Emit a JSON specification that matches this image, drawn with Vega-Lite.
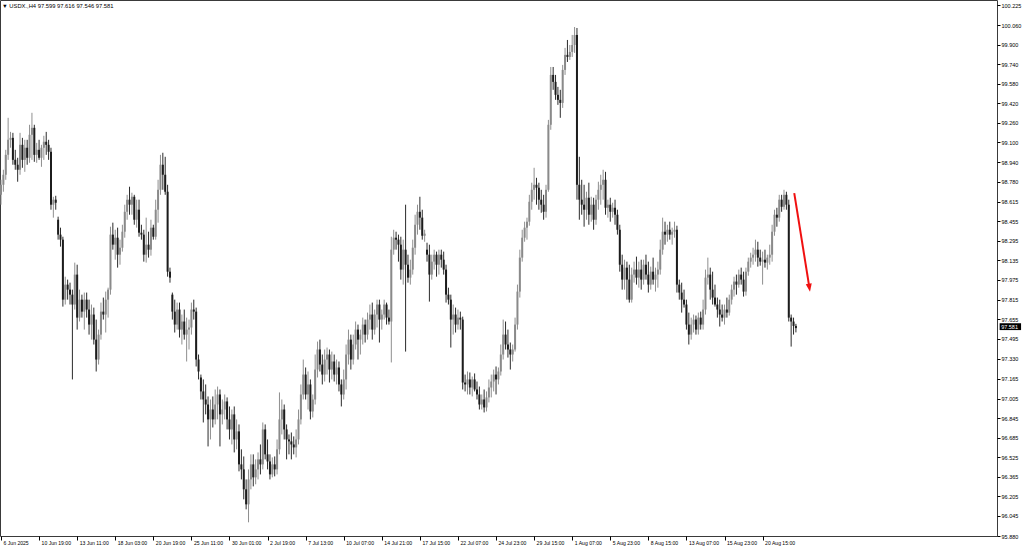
{
"$schema": "https://vega.github.io/schema/vega-lite/v6.json",
"width": 997, "height": 536,
"autosize": "none",
"padding": {"left": 0, "top": 0, "right": 27, "bottom": 14},
"background": "white",
"config": {"view": {"stroke": "#3a3a3a", "strokeWidth": 1}, "font": "Liberation Sans",
 "scale": {"continuousPadding": 0},
 "axisX": {"labelAlign": "left", "labelBaseline": "top", "labelPadding": 0, "labelOffset": 2, "tickSize": 4, "tickColor": "#000", "domain": false, "grid": false, "labelFontSize": 5.1, "labelColor": "#000", "labelOverlap": false, "labelFlush": false, "labelBound": false},
 "axisY": {"tickSize": 3, "labelPadding": 1, "tickColor": "#000", "domain": false, "grid": false, "labelFontSize": 5.5, "labelColor": "#000", "labelOverlap": false, "labelFlush": false, "labelBound": false, "labelBaseline": "middle"}},
"title": {"text": "▼ USDX.,H4  97.599 97.616 97.546 97.581", "anchor": "start", "frame": "group", "offset": -9, "fontSize": 5.8, "fontWeight": "normal", "color": "#000", "dx": 2},
"datasets": {
"ohlc": [
{"i":0,"o":98.672,"h":98.795,"l":98.591,"c":98.754},
{"i":1,"o":98.754,"h":98.877,"l":98.697,"c":98.836},
{"i":2,"o":98.836,"h":99.040,"l":98.795,"c":98.999},
{"i":3,"o":98.999,"h":99.302,"l":98.958,"c":99.122},
{"i":4,"o":99.122,"h":99.187,"l":99.057,"c":99.138},
{"i":5,"o":99.138,"h":99.179,"l":98.918,"c":98.958},
{"i":6,"o":98.958,"h":99.040,"l":98.877,"c":98.918},
{"i":7,"o":98.918,"h":98.975,"l":98.779,"c":98.877},
{"i":8,"o":98.877,"h":99.179,"l":98.836,"c":99.081},
{"i":9,"o":99.081,"h":99.138,"l":98.893,"c":98.958},
{"i":10,"o":98.958,"h":99.122,"l":98.860,"c":99.057},
{"i":11,"o":99.057,"h":99.122,"l":98.918,"c":98.975},
{"i":12,"o":98.975,"h":99.245,"l":98.934,"c":99.163},
{"i":13,"o":99.163,"h":99.343,"l":98.958,"c":99.220},
{"i":14,"o":99.220,"h":99.245,"l":98.942,"c":98.999},
{"i":15,"o":98.999,"h":99.097,"l":98.934,"c":99.040},
{"i":16,"o":99.040,"h":99.122,"l":98.958,"c":98.975},
{"i":17,"o":98.975,"h":99.081,"l":98.901,"c":99.057},
{"i":18,"o":99.057,"h":99.155,"l":98.958,"c":99.106},
{"i":19,"o":99.106,"h":99.187,"l":98.999,"c":99.081},
{"i":20,"o":99.081,"h":99.122,"l":98.958,"c":99.024},
{"i":21,"o":99.024,"h":99.057,"l":98.550,"c":98.591},
{"i":22,"o":98.591,"h":98.656,"l":98.485,"c":98.632},
{"i":23,"o":98.632,"h":98.664,"l":98.550,"c":98.607},
{"i":24,"o":98.468,"h":98.493,"l":98.305,"c":98.346},
{"i":25,"o":98.346,"h":98.403,"l":98.248,"c":98.305},
{"i":26,"o":98.305,"h":98.329,"l":97.757,"c":97.814},
{"i":27,"o":97.814,"h":98.002,"l":97.774,"c":97.937},
{"i":28,"o":97.937,"h":97.978,"l":97.814,"c":97.896},
{"i":29,"o":97.896,"h":97.953,"l":97.774,"c":97.855},
{"i":30,"o":97.855,"h":97.896,"l":97.161,"c":97.774},
{"i":31,"o":97.774,"h":98.117,"l":97.733,"c":98.019},
{"i":32,"o":98.019,"h":98.100,"l":97.569,"c":97.667},
{"i":33,"o":97.667,"h":97.896,"l":97.635,"c":97.814},
{"i":34,"o":97.814,"h":97.855,"l":97.667,"c":97.716},
{"i":35,"o":97.716,"h":97.872,"l":97.569,"c":97.814},
{"i":36,"o":97.814,"h":97.872,"l":97.667,"c":97.733},
{"i":37,"o":97.733,"h":97.814,"l":97.528,"c":97.610},
{"i":38,"o":97.610,"h":97.774,"l":97.487,"c":97.692},
{"i":39,"o":97.692,"h":97.749,"l":97.447,"c":97.487},
{"i":40,"o":97.487,"h":97.651,"l":97.226,"c":97.324},
{"i":41,"o":97.324,"h":97.569,"l":97.283,"c":97.528},
{"i":42,"o":97.528,"h":97.790,"l":97.487,"c":97.716},
{"i":43,"o":97.716,"h":97.831,"l":97.651,"c":97.692},
{"i":44,"o":97.692,"h":97.880,"l":97.545,"c":97.814},
{"i":45,"o":97.814,"h":97.912,"l":97.667,"c":97.896},
{"i":46,"o":97.896,"h":98.411,"l":97.855,"c":98.346},
{"i":47,"o":98.346,"h":98.444,"l":98.223,"c":98.264},
{"i":48,"o":98.264,"h":98.386,"l":98.141,"c":98.321},
{"i":49,"o":98.321,"h":98.403,"l":98.076,"c":98.182},
{"i":50,"o":98.182,"h":98.305,"l":98.100,"c":98.239},
{"i":51,"o":98.239,"h":98.427,"l":98.207,"c":98.370},
{"i":52,"o":98.370,"h":98.591,"l":98.321,"c":98.533},
{"i":53,"o":98.533,"h":98.672,"l":98.468,"c":98.632},
{"i":54,"o":98.632,"h":98.738,"l":98.509,"c":98.591},
{"i":55,"o":98.591,"h":98.689,"l":98.509,"c":98.656},
{"i":56,"o":98.656,"h":98.672,"l":98.427,"c":98.468},
{"i":57,"o":98.468,"h":98.632,"l":98.403,"c":98.550},
{"i":58,"o":98.550,"h":98.632,"l":98.329,"c":98.362},
{"i":59,"o":98.362,"h":98.427,"l":98.305,"c":98.346},
{"i":60,"o":98.346,"h":98.386,"l":98.125,"c":98.182},
{"i":61,"o":98.182,"h":98.485,"l":98.117,"c":98.264},
{"i":62,"o":98.264,"h":98.370,"l":98.158,"c":98.223},
{"i":63,"o":98.223,"h":98.468,"l":98.174,"c":98.403},
{"i":64,"o":98.403,"h":98.427,"l":98.305,"c":98.329},
{"i":65,"o":98.329,"h":98.632,"l":98.305,"c":98.550},
{"i":66,"o":98.550,"h":98.795,"l":98.444,"c":98.713},
{"i":67,"o":98.713,"h":98.999,"l":98.672,"c":98.918},
{"i":68,"o":98.918,"h":99.016,"l":98.713,"c":98.836},
{"i":69,"o":98.836,"h":98.983,"l":98.672,"c":98.697},
{"i":70,"o":98.697,"h":98.754,"l":98.002,"c":98.043},
{"i":71,"o":98.043,"h":98.076,"l":97.953,"c":97.994},
{"i":72,"o":97.855,"h":97.872,"l":97.651,"c":97.716},
{"i":73,"o":97.716,"h":97.814,"l":97.545,"c":97.610},
{"i":74,"o":97.610,"h":97.790,"l":97.569,"c":97.733},
{"i":75,"o":97.733,"h":97.790,"l":97.504,"c":97.569},
{"i":76,"o":97.569,"h":97.692,"l":97.447,"c":97.635},
{"i":77,"o":97.635,"h":97.733,"l":97.487,"c":97.528},
{"i":78,"o":97.528,"h":97.667,"l":97.308,"c":97.569},
{"i":79,"o":97.569,"h":97.651,"l":97.406,"c":97.586},
{"i":80,"o":97.586,"h":97.790,"l":97.528,"c":97.733},
{"i":81,"o":97.733,"h":97.814,"l":97.651,"c":97.716},
{"i":82,"o":97.716,"h":97.749,"l":97.267,"c":97.324},
{"i":83,"o":97.324,"h":97.365,"l":97.161,"c":97.226},
{"i":84,"o":97.177,"h":97.201,"l":96.997,"c":97.063},
{"i":85,"o":97.063,"h":97.161,"l":96.809,"c":96.997},
{"i":86,"o":96.997,"h":97.120,"l":96.875,"c":96.956},
{"i":87,"o":96.956,"h":97.022,"l":96.613,"c":96.834},
{"i":88,"o":96.834,"h":96.997,"l":96.670,"c":96.915},
{"i":89,"o":96.915,"h":97.022,"l":96.768,"c":96.834},
{"i":90,"o":96.834,"h":97.079,"l":96.793,"c":96.956},
{"i":91,"o":96.956,"h":97.103,"l":96.834,"c":97.038},
{"i":92,"o":97.038,"h":97.079,"l":96.613,"c":96.875},
{"i":93,"o":96.875,"h":96.997,"l":96.793,"c":96.915},
{"i":94,"o":96.915,"h":97.038,"l":96.834,"c":96.981},
{"i":95,"o":96.981,"h":97.014,"l":96.752,"c":96.834},
{"i":96,"o":96.834,"h":96.940,"l":96.670,"c":96.752},
{"i":97,"o":96.752,"h":96.915,"l":96.629,"c":96.875},
{"i":98,"o":96.875,"h":96.940,"l":96.564,"c":96.670},
{"i":99,"o":96.670,"h":96.834,"l":96.589,"c":96.736},
{"i":100,"o":96.736,"h":96.793,"l":96.409,"c":96.466},
{"i":101,"o":96.466,"h":96.589,"l":96.343,"c":96.425},
{"i":102,"o":96.425,"h":96.531,"l":96.180,"c":96.262},
{"i":103,"o":96.262,"h":96.343,"l":96.098,"c":96.139},
{"i":104,"o":96.139,"h":96.425,"l":95.992,"c":96.343},
{"i":105,"o":96.343,"h":96.548,"l":96.262,"c":96.466},
{"i":106,"o":96.466,"h":96.548,"l":96.286,"c":96.360},
{"i":107,"o":96.360,"h":96.507,"l":96.303,"c":96.425},
{"i":108,"o":96.425,"h":96.564,"l":96.343,"c":96.507},
{"i":109,"o":96.507,"h":96.629,"l":96.384,"c":96.466},
{"i":110,"o":96.466,"h":96.809,"l":96.425,"c":96.752},
{"i":111,"o":96.752,"h":96.793,"l":96.507,"c":96.548},
{"i":112,"o":96.548,"h":96.670,"l":96.425,"c":96.490},
{"i":113,"o":96.490,"h":96.548,"l":96.343,"c":96.384},
{"i":114,"o":96.384,"h":96.523,"l":96.360,"c":96.466},
{"i":115,"o":96.466,"h":96.531,"l":96.368,"c":96.425},
{"i":116,"o":96.425,"h":96.670,"l":96.384,"c":96.589},
{"i":117,"o":96.589,"h":97.055,"l":96.548,"c":96.834},
{"i":118,"o":96.834,"h":96.997,"l":96.711,"c":96.915},
{"i":119,"o":96.915,"h":96.956,"l":96.670,"c":96.752},
{"i":120,"o":96.752,"h":96.793,"l":96.507,"c":96.670},
{"i":121,"o":96.670,"h":96.711,"l":96.548,"c":96.654},
{"i":122,"o":96.654,"h":96.727,"l":96.507,"c":96.629},
{"i":123,"o":96.629,"h":96.695,"l":96.548,"c":96.605},
{"i":124,"o":96.605,"h":96.752,"l":96.523,"c":96.670},
{"i":125,"o":96.670,"h":96.915,"l":96.629,"c":96.834},
{"i":126,"o":96.834,"h":97.120,"l":96.793,"c":97.038},
{"i":127,"o":97.038,"h":97.324,"l":96.997,"c":97.201},
{"i":128,"o":97.201,"h":97.259,"l":96.997,"c":97.038},
{"i":129,"o":97.038,"h":97.226,"l":96.915,"c":97.120},
{"i":130,"o":97.120,"h":97.161,"l":96.834,"c":96.899},
{"i":131,"o":96.899,"h":97.038,"l":96.850,"c":96.997},
{"i":132,"o":96.997,"h":97.365,"l":96.956,"c":97.242},
{"i":133,"o":97.242,"h":97.471,"l":97.177,"c":97.406},
{"i":134,"o":97.406,"h":97.487,"l":97.226,"c":97.283},
{"i":135,"o":97.283,"h":97.365,"l":97.120,"c":97.201},
{"i":136,"o":97.201,"h":97.406,"l":97.144,"c":97.324},
{"i":137,"o":97.324,"h":97.422,"l":97.201,"c":97.365},
{"i":138,"o":97.365,"h":97.406,"l":97.136,"c":97.242},
{"i":139,"o":97.242,"h":97.389,"l":97.161,"c":97.308},
{"i":140,"o":97.308,"h":97.365,"l":97.144,"c":97.201},
{"i":141,"o":97.201,"h":97.324,"l":97.120,"c":97.259},
{"i":142,"o":97.259,"h":97.308,"l":97.063,"c":97.120},
{"i":143,"o":97.120,"h":97.161,"l":96.940,"c":97.038},
{"i":144,"o":97.038,"h":97.242,"l":96.997,"c":97.161},
{"i":145,"o":97.161,"h":97.447,"l":97.079,"c":97.365},
{"i":146,"o":97.365,"h":97.569,"l":97.283,"c":97.487},
{"i":147,"o":97.487,"h":97.528,"l":97.242,"c":97.324},
{"i":148,"o":97.324,"h":97.528,"l":97.283,"c":97.447},
{"i":149,"o":97.447,"h":97.635,"l":97.406,"c":97.569},
{"i":150,"o":97.569,"h":97.610,"l":97.324,"c":97.487},
{"i":151,"o":97.487,"h":97.569,"l":97.365,"c":97.528},
{"i":152,"o":97.528,"h":97.667,"l":97.447,"c":97.610},
{"i":153,"o":97.610,"h":97.651,"l":97.463,"c":97.528},
{"i":154,"o":97.528,"h":97.708,"l":97.487,"c":97.651},
{"i":155,"o":97.651,"h":97.774,"l":97.569,"c":97.692},
{"i":156,"o":97.692,"h":97.790,"l":97.487,"c":97.569},
{"i":157,"o":97.569,"h":97.733,"l":97.528,"c":97.692},
{"i":158,"o":97.692,"h":97.814,"l":97.586,"c":97.774},
{"i":159,"o":97.774,"h":97.814,"l":97.463,"c":97.651},
{"i":160,"o":97.651,"h":97.733,"l":97.569,"c":97.692},
{"i":161,"o":97.692,"h":97.814,"l":97.651,"c":97.774},
{"i":162,"o":97.774,"h":97.790,"l":97.610,"c":97.667},
{"i":163,"o":97.667,"h":97.733,"l":97.610,"c":97.635},
{"i":164,"o":97.635,"h":98.329,"l":97.300,"c":98.223},
{"i":165,"o":98.223,"h":98.386,"l":98.182,"c":98.321},
{"i":166,"o":98.321,"h":98.370,"l":98.223,"c":98.305},
{"i":167,"o":98.305,"h":98.346,"l":98.125,"c":98.264},
{"i":168,"o":98.264,"h":98.329,"l":97.978,"c":98.060},
{"i":169,"o":98.060,"h":98.305,"l":97.937,"c":98.223},
{"i":170,"o":98.223,"h":98.591,"l":97.389,"c":98.100},
{"i":171,"o":98.100,"h":98.182,"l":97.953,"c":97.994},
{"i":172,"o":97.994,"h":98.141,"l":97.937,"c":98.060},
{"i":173,"o":98.060,"h":98.305,"l":98.019,"c":98.239},
{"i":174,"o":98.239,"h":98.509,"l":98.182,"c":98.427},
{"i":175,"o":98.427,"h":98.591,"l":98.346,"c":98.533},
{"i":176,"o":98.533,"h":98.656,"l":98.386,"c":98.485},
{"i":177,"o":98.485,"h":98.550,"l":98.305,"c":98.337},
{"i":178,"o":98.337,"h":98.386,"l":98.288,"c":98.354},
{"i":179,"o":98.223,"h":98.280,"l":98.125,"c":98.182},
{"i":180,"o":98.182,"h":98.264,"l":97.798,"c":98.019},
{"i":181,"o":98.019,"h":98.182,"l":97.978,"c":98.125},
{"i":182,"o":98.125,"h":98.223,"l":98.060,"c":98.182},
{"i":183,"o":98.182,"h":98.207,"l":98.002,"c":98.100},
{"i":184,"o":98.100,"h":98.223,"l":98.019,"c":98.182},
{"i":185,"o":98.182,"h":98.223,"l":98.076,"c":98.141},
{"i":186,"o":98.141,"h":98.207,"l":98.019,"c":98.060},
{"i":187,"o":98.060,"h":98.100,"l":97.790,"c":97.855},
{"i":188,"o":97.855,"h":97.912,"l":97.774,"c":97.814},
{"i":189,"o":97.814,"h":97.855,"l":97.422,"c":97.651},
{"i":190,"o":97.651,"h":97.774,"l":97.528,"c":97.692},
{"i":191,"o":97.692,"h":97.749,"l":97.545,"c":97.610},
{"i":192,"o":97.610,"h":97.733,"l":97.569,"c":97.667},
{"i":193,"o":97.667,"h":97.716,"l":97.569,"c":97.651},
{"i":194,"o":97.651,"h":97.675,"l":97.079,"c":97.136},
{"i":195,"o":97.136,"h":97.201,"l":97.063,"c":97.120},
{"i":196,"o":97.120,"h":97.226,"l":97.038,"c":97.161},
{"i":197,"o":97.161,"h":97.218,"l":97.038,"c":97.095},
{"i":198,"o":97.095,"h":97.185,"l":97.022,"c":97.161},
{"i":199,"o":97.161,"h":97.210,"l":97.063,"c":97.079},
{"i":200,"o":97.079,"h":97.144,"l":96.997,"c":97.038},
{"i":201,"o":97.038,"h":97.103,"l":96.915,"c":96.956},
{"i":202,"o":96.956,"h":97.038,"l":96.915,"c":96.997},
{"i":203,"o":96.997,"h":97.079,"l":96.891,"c":96.932},
{"i":204,"o":96.932,"h":97.063,"l":96.899,"c":97.014},
{"i":205,"o":97.014,"h":97.161,"l":96.973,"c":97.095},
{"i":206,"o":97.095,"h":97.201,"l":97.014,"c":97.144},
{"i":207,"o":97.144,"h":97.242,"l":97.063,"c":97.201},
{"i":208,"o":97.201,"h":97.267,"l":97.038,"c":97.161},
{"i":209,"o":97.161,"h":97.259,"l":97.120,"c":97.226},
{"i":210,"o":97.226,"h":97.447,"l":97.193,"c":97.365},
{"i":211,"o":97.365,"h":97.651,"l":97.324,"c":97.528},
{"i":212,"o":97.528,"h":97.635,"l":97.406,"c":97.447},
{"i":213,"o":97.447,"h":97.569,"l":97.340,"c":97.406},
{"i":214,"o":97.406,"h":97.463,"l":97.242,"c":97.365},
{"i":215,"o":97.365,"h":97.447,"l":97.308,"c":97.406},
{"i":216,"o":97.406,"h":97.667,"l":97.389,"c":97.610},
{"i":217,"o":97.610,"h":97.937,"l":97.569,"c":97.880},
{"i":218,"o":97.880,"h":98.223,"l":97.831,"c":98.158},
{"i":219,"o":98.158,"h":98.386,"l":98.125,"c":98.321},
{"i":220,"o":98.321,"h":98.452,"l":98.288,"c":98.403},
{"i":221,"o":98.403,"h":98.485,"l":98.305,"c":98.452},
{"i":222,"o":98.452,"h":98.672,"l":98.419,"c":98.615},
{"i":223,"o":98.615,"h":98.771,"l":98.550,"c":98.713},
{"i":224,"o":98.713,"h":98.893,"l":98.632,"c":98.754},
{"i":225,"o":98.754,"h":98.811,"l":98.591,"c":98.730},
{"i":226,"o":98.730,"h":98.771,"l":98.550,"c":98.632},
{"i":227,"o":98.632,"h":98.713,"l":98.525,"c":98.591},
{"i":228,"o":98.591,"h":98.672,"l":98.468,"c":98.533},
{"i":229,"o":98.533,"h":98.754,"l":98.485,"c":98.713},
{"i":230,"o":98.713,"h":99.285,"l":98.697,"c":99.245},
{"i":231,"o":99.245,"h":99.718,"l":99.204,"c":99.653},
{"i":232,"o":99.653,"h":99.718,"l":99.531,"c":99.596},
{"i":233,"o":99.596,"h":99.653,"l":99.449,"c":99.490},
{"i":234,"o":99.490,"h":99.555,"l":99.408,"c":99.449},
{"i":235,"o":99.449,"h":99.531,"l":99.302,"c":99.424},
{"i":236,"o":99.424,"h":99.735,"l":99.383,"c":99.694},
{"i":237,"o":99.694,"h":99.874,"l":99.653,"c":99.817},
{"i":238,"o":99.817,"h":99.939,"l":99.759,"c":99.800},
{"i":239,"o":99.800,"h":99.898,"l":99.776,"c":99.841},
{"i":240,"o":99.841,"h":99.980,"l":99.800,"c":99.898},
{"i":241,"o":99.898,"h":100.045,"l":99.833,"c":99.980},
{"i":242,"o":99.980,"h":100.037,"l":98.632,"c":98.754},
{"i":243,"o":98.754,"h":98.983,"l":98.468,"c":98.632},
{"i":244,"o":98.632,"h":98.795,"l":98.509,"c":98.591},
{"i":245,"o":98.591,"h":98.754,"l":98.411,"c":98.550},
{"i":246,"o":98.550,"h":98.697,"l":98.468,"c":98.648},
{"i":247,"o":98.648,"h":98.771,"l":98.427,"c":98.509},
{"i":248,"o":98.509,"h":98.656,"l":98.452,"c":98.591},
{"i":249,"o":98.591,"h":98.648,"l":98.386,"c":98.468},
{"i":250,"o":98.468,"h":98.672,"l":98.427,"c":98.632},
{"i":251,"o":98.632,"h":98.779,"l":98.550,"c":98.713},
{"i":252,"o":98.713,"h":98.836,"l":98.591,"c":98.754},
{"i":253,"o":98.754,"h":98.877,"l":98.632,"c":98.795},
{"i":254,"o":98.795,"h":98.860,"l":98.509,"c":98.566},
{"i":255,"o":98.566,"h":98.632,"l":98.485,"c":98.591},
{"i":256,"o":98.591,"h":98.648,"l":98.452,"c":98.533},
{"i":257,"o":98.533,"h":98.607,"l":98.485,"c":98.566},
{"i":258,"o":98.566,"h":98.632,"l":98.427,"c":98.509},
{"i":259,"o":98.509,"h":98.550,"l":98.346,"c":98.386},
{"i":260,"o":98.386,"h":98.427,"l":98.043,"c":98.100},
{"i":261,"o":98.100,"h":98.182,"l":97.896,"c":97.978},
{"i":262,"o":97.978,"h":98.141,"l":97.896,"c":98.076},
{"i":263,"o":98.076,"h":98.125,"l":97.814,"c":97.978},
{"i":264,"o":97.978,"h":98.100,"l":97.790,"c":97.814},
{"i":265,"o":97.814,"h":98.076,"l":97.790,"c":98.019},
{"i":266,"o":98.019,"h":98.125,"l":97.953,"c":98.060},
{"i":267,"o":98.060,"h":98.166,"l":97.937,"c":97.994},
{"i":268,"o":97.994,"h":98.125,"l":97.912,"c":98.060},
{"i":269,"o":98.060,"h":98.141,"l":97.896,"c":97.978},
{"i":270,"o":97.978,"h":98.141,"l":97.937,"c":98.100},
{"i":271,"o":98.100,"h":98.182,"l":97.978,"c":98.019},
{"i":272,"o":98.019,"h":98.125,"l":97.872,"c":97.937},
{"i":273,"o":97.937,"h":98.084,"l":97.896,"c":98.043},
{"i":274,"o":98.043,"h":98.158,"l":97.937,"c":97.978},
{"i":275,"o":97.978,"h":98.076,"l":97.880,"c":98.019},
{"i":276,"o":98.019,"h":98.125,"l":97.912,"c":98.060},
{"i":277,"o":98.060,"h":98.305,"l":98.019,"c":98.223},
{"i":278,"o":98.223,"h":98.485,"l":98.182,"c":98.370},
{"i":279,"o":98.370,"h":98.452,"l":98.264,"c":98.346},
{"i":280,"o":98.346,"h":98.427,"l":98.288,"c":98.386},
{"i":281,"o":98.386,"h":98.452,"l":98.305,"c":98.346},
{"i":282,"o":98.346,"h":98.403,"l":98.264,"c":98.370},
{"i":283,"o":98.370,"h":98.452,"l":98.321,"c":98.386},
{"i":284,"o":98.386,"h":98.419,"l":97.872,"c":97.937},
{"i":285,"o":97.937,"h":97.978,"l":97.814,"c":97.872},
{"i":286,"o":97.872,"h":97.953,"l":97.708,"c":97.814},
{"i":287,"o":97.814,"h":97.896,"l":97.749,"c":97.774},
{"i":288,"o":97.774,"h":97.814,"l":97.569,"c":97.610},
{"i":289,"o":97.610,"h":97.708,"l":97.447,"c":97.528},
{"i":290,"o":97.528,"h":97.667,"l":97.487,"c":97.610},
{"i":291,"o":97.610,"h":97.692,"l":97.545,"c":97.651},
{"i":292,"o":97.651,"h":97.684,"l":97.528,"c":97.569},
{"i":293,"o":97.569,"h":97.708,"l":97.528,"c":97.667},
{"i":294,"o":97.667,"h":97.716,"l":97.569,"c":97.610},
{"i":295,"o":97.610,"h":97.814,"l":97.569,"c":97.733},
{"i":296,"o":97.733,"h":98.060,"l":97.692,"c":97.994},
{"i":297,"o":97.994,"h":98.158,"l":97.937,"c":98.019},
{"i":298,"o":98.019,"h":98.076,"l":97.814,"c":97.896},
{"i":299,"o":97.896,"h":98.043,"l":97.774,"c":97.831},
{"i":300,"o":97.831,"h":97.937,"l":97.757,"c":97.774},
{"i":301,"o":97.774,"h":97.831,"l":97.667,"c":97.733},
{"i":302,"o":97.733,"h":97.814,"l":97.594,"c":97.692},
{"i":303,"o":97.692,"h":97.774,"l":97.635,"c":97.667},
{"i":304,"o":97.667,"h":97.774,"l":97.610,"c":97.733},
{"i":305,"o":97.733,"h":97.831,"l":97.667,"c":97.708},
{"i":306,"o":97.708,"h":97.855,"l":97.684,"c":97.814},
{"i":307,"o":97.814,"h":97.937,"l":97.774,"c":97.896},
{"i":308,"o":97.896,"h":98.002,"l":97.839,"c":97.962},
{"i":309,"o":97.962,"h":98.019,"l":97.855,"c":97.937},
{"i":310,"o":97.937,"h":98.060,"l":97.912,"c":98.019},
{"i":311,"o":98.019,"h":98.076,"l":97.937,"c":97.978},
{"i":312,"o":97.978,"h":98.043,"l":97.839,"c":97.880},
{"i":313,"o":97.880,"h":98.076,"l":97.847,"c":98.043},
{"i":314,"o":98.043,"h":98.158,"l":98.010,"c":98.125},
{"i":315,"o":98.125,"h":98.198,"l":98.076,"c":98.158},
{"i":316,"o":98.158,"h":98.239,"l":98.100,"c":98.182},
{"i":317,"o":98.182,"h":98.305,"l":98.125,"c":98.223},
{"i":318,"o":98.223,"h":98.288,"l":98.084,"c":98.158},
{"i":319,"o":98.158,"h":98.223,"l":98.092,"c":98.125},
{"i":320,"o":98.125,"h":98.207,"l":97.937,"c":98.141},
{"i":321,"o":98.141,"h":98.223,"l":98.076,"c":98.117},
{"i":322,"o":98.117,"h":98.182,"l":98.060,"c":98.158},
{"i":323,"o":98.158,"h":98.264,"l":98.100,"c":98.182},
{"i":324,"o":98.182,"h":98.427,"l":98.125,"c":98.370},
{"i":325,"o":98.370,"h":98.550,"l":98.337,"c":98.509},
{"i":326,"o":98.509,"h":98.566,"l":98.411,"c":98.485},
{"i":327,"o":98.485,"h":98.672,"l":98.452,"c":98.632},
{"i":328,"o":98.632,"h":98.672,"l":98.533,"c":98.574},
{"i":329,"o":98.574,"h":98.713,"l":98.550,"c":98.672},
{"i":330,"o":98.672,"h":98.697,"l":98.550,"c":98.591},
{"i":331,"o":98.591,"h":98.632,"l":97.635,"c":97.667},
{"i":332,"o":97.667,"h":97.692,"l":97.430,"c":97.635},
{"i":333,"o":97.635,"h":97.667,"l":97.528,"c":97.599},
{"i":334,"o":97.599,"h":97.616,"l":97.546,"c":97.581}
],
"arrow": [{"i":333.3,"p":98.686},{"i":339.6,"p":97.921}],
"head": [{"i":339.66,"p":97.912}],
"tag": [{"i":419.6,"i2":428.6,"p1":97.621,"p2":97.565,"p":97.593,"t":"97.581"}]
},
"layer": [
{"data": {"name": "ohlc"},
 "mark": {"type": "rule", "strokeWidth": 1},
 "encoding": {
  "x": {"field": "i", "type": "quantitative",
   "scale": {"domain": [-0.42, 418.49], "nice": false, "zero": false, "padding": 0},
   "axis": {"title": null, "values": [0,16,32,48,64,80,96,112,128,144,160,176,192,208,224,240,256,272,288,304,320],
    "labelExpr": "['6 Jun 2025','10 Jun 19:00','13 Jun 11:00','18 Jun 03:00','20 Jun 19:00','25 Jun 11:00','30 Jun 01:00','2 Jul 19:00','7 Jul 13:00','10 Jul 07:00','14 Jul 21:00','17 Jul 15:00','22 Jul 07:00','24 Jul 23:00','29 Jul 15:00','1 Aug 07:00','5 Aug 23:00','8 Aug 15:00','13 Aug 07:00','15 Aug 23:00','20 Aug 15:00'][round(datum.value/16)]"}},
  "y": {"field": "l", "type": "quantitative",
   "scale": {"domain": [95.88, 100.266], "nice": false, "zero": false, "padding": 0},
   "axis": {"title": null, "orient": "right", "format": ".3f", "values": [100.225,100.06,99.9,99.74,99.58,99.42,99.26,99.1,98.94,98.78,98.615,98.455,98.295,98.135,97.975,97.815,97.655,97.495,97.33,97.165,97.005,96.845,96.685,96.525,96.365,96.205,96.045,95.88]}},
  "y2": {"field": "h"},
  "color": {"condition": {"test": "datum.c < datum.o", "value": "#2b2b2b"}, "value": "#8f8f8f"}
 }},
{"data": {"name": "ohlc"},
 "mark": {"type": "bar", "width": 2},
 "encoding": {
  "x": {"field": "i", "type": "quantitative",
   "axis": {"title": null, "values": [0,16,32,48,64,80,96,112,128,144,160,176,192,208,224,240,256,272,288,304,320],
    "labelExpr": "['6 Jun 2025','10 Jun 19:00','13 Jun 11:00','18 Jun 03:00','20 Jun 19:00','25 Jun 11:00','30 Jun 01:00','2 Jul 19:00','7 Jul 13:00','10 Jul 07:00','14 Jul 21:00','17 Jul 15:00','22 Jul 07:00','24 Jul 23:00','29 Jul 15:00','1 Aug 07:00','5 Aug 23:00','8 Aug 15:00','13 Aug 07:00','15 Aug 23:00','20 Aug 15:00'][round(datum.value/16)]"}},
  "y": {"field": "o", "type": "quantitative",
   "axis": {"title": null, "orient": "right", "format": ".3f", "values": [100.225,100.06,99.9,99.74,99.58,99.42,99.26,99.1,98.94,98.78,98.615,98.455,98.295,98.135,97.975,97.815,97.655,97.495,97.33,97.165,97.005,96.845,96.685,96.525,96.365,96.205,96.045,95.88]}},
  "y2": {"field": "c"},
  "color": {"condition": {"test": "datum.c < datum.o", "value": "#1c1c1c"}, "value": "#8a8a8a"}
 }},
{"data": {"name": "arrow"},
 "mark": {"type": "line", "color": "#f01010", "strokeWidth": 2},
 "encoding": {
  "x": {"field": "i", "type": "quantitative",
   "axis": {"title": null, "values": [0,16,32,48,64,80,96,112,128,144,160,176,192,208,224,240,256,272,288,304,320],
    "labelExpr": "['6 Jun 2025','10 Jun 19:00','13 Jun 11:00','18 Jun 03:00','20 Jun 19:00','25 Jun 11:00','30 Jun 01:00','2 Jul 19:00','7 Jul 13:00','10 Jul 07:00','14 Jul 21:00','17 Jul 15:00','22 Jul 07:00','24 Jul 23:00','29 Jul 15:00','1 Aug 07:00','5 Aug 23:00','8 Aug 15:00','13 Aug 07:00','15 Aug 23:00','20 Aug 15:00'][round(datum.value/16)]"}},
  "y": {"field": "p", "type": "quantitative",
   "axis": {"title": null, "orient": "right", "format": ".3f", "values": [100.225,100.06,99.9,99.74,99.58,99.42,99.26,99.1,98.94,98.78,98.615,98.455,98.295,98.135,97.975,97.815,97.655,97.495,97.33,97.165,97.005,96.845,96.685,96.525,96.365,96.205,96.045,95.88]}}}},
{"data": {"name": "head"},
 "mark": {"type": "point", "shape": "M0,1L-0.75,-1L0.75,-1Z", "size": 64, "filled": true, "color": "#f01010", "opacity": 1, "angle": -9},
 "encoding": {
  "x": {"field": "i", "type": "quantitative",
   "axis": {"title": null, "values": [0,16,32,48,64,80,96,112,128,144,160,176,192,208,224,240,256,272,288,304,320],
    "labelExpr": "['6 Jun 2025','10 Jun 19:00','13 Jun 11:00','18 Jun 03:00','20 Jun 19:00','25 Jun 11:00','30 Jun 01:00','2 Jul 19:00','7 Jul 13:00','10 Jul 07:00','14 Jul 21:00','17 Jul 15:00','22 Jul 07:00','24 Jul 23:00','29 Jul 15:00','1 Aug 07:00','5 Aug 23:00','8 Aug 15:00','13 Aug 07:00','15 Aug 23:00','20 Aug 15:00'][round(datum.value/16)]"}},
  "y": {"field": "p", "type": "quantitative",
   "axis": {"title": null, "orient": "right", "format": ".3f", "values": [100.225,100.06,99.9,99.74,99.58,99.42,99.26,99.1,98.94,98.78,98.615,98.455,98.295,98.135,97.975,97.815,97.655,97.495,97.33,97.165,97.005,96.845,96.685,96.525,96.365,96.205,96.045,95.88]}}}},
{"data": {"name": "tag"},
 "mark": {"type": "rect", "color": "#000"},
 "encoding": {
  "x": {"field": "i", "type": "quantitative",
   "axis": {"title": null, "values": [0,16,32,48,64,80,96,112,128,144,160,176,192,208,224,240,256,272,288,304,320],
    "labelExpr": "['6 Jun 2025','10 Jun 19:00','13 Jun 11:00','18 Jun 03:00','20 Jun 19:00','25 Jun 11:00','30 Jun 01:00','2 Jul 19:00','7 Jul 13:00','10 Jul 07:00','14 Jul 21:00','17 Jul 15:00','22 Jul 07:00','24 Jul 23:00','29 Jul 15:00','1 Aug 07:00','5 Aug 23:00','8 Aug 15:00','13 Aug 07:00','15 Aug 23:00','20 Aug 15:00'][round(datum.value/16)]"}},
  "x2": {"field": "i2"},
  "y": {"field": "p1", "type": "quantitative",
   "axis": {"title": null, "orient": "right", "format": ".3f", "values": [100.225,100.06,99.9,99.74,99.58,99.42,99.26,99.1,98.94,98.78,98.615,98.455,98.295,98.135,97.975,97.815,97.655,97.495,97.33,97.165,97.005,96.845,96.685,96.525,96.365,96.205,96.045,95.88]}},
  "y2": {"field": "p2"}}},
{"data": {"name": "tag"},
 "mark": {"type": "text", "color": "#fff", "fontSize": 5.5, "align": "left", "baseline": "middle", "dx": 1.5},
 "encoding": {
  "x": {"field": "i", "type": "quantitative",
   "axis": {"title": null, "values": [0,16,32,48,64,80,96,112,128,144,160,176,192,208,224,240,256,272,288,304,320],
    "labelExpr": "['6 Jun 2025','10 Jun 19:00','13 Jun 11:00','18 Jun 03:00','20 Jun 19:00','25 Jun 11:00','30 Jun 01:00','2 Jul 19:00','7 Jul 13:00','10 Jul 07:00','14 Jul 21:00','17 Jul 15:00','22 Jul 07:00','24 Jul 23:00','29 Jul 15:00','1 Aug 07:00','5 Aug 23:00','8 Aug 15:00','13 Aug 07:00','15 Aug 23:00','20 Aug 15:00'][round(datum.value/16)]"}},
  "y": {"field": "p", "type": "quantitative",
   "axis": {"title": null, "orient": "right", "format": ".3f", "values": [100.225,100.06,99.9,99.74,99.58,99.42,99.26,99.1,98.94,98.78,98.615,98.455,98.295,98.135,97.975,97.815,97.655,97.495,97.33,97.165,97.005,96.845,96.685,96.525,96.365,96.205,96.045,95.88]}},
  "text": {"field": "t"}}}
]
}
